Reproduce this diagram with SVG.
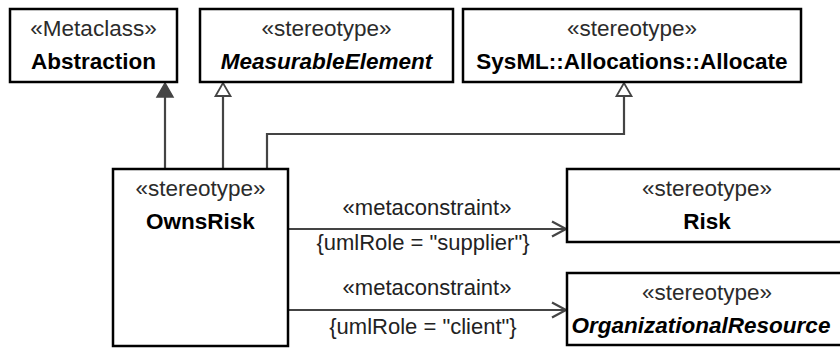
<svg xmlns="http://www.w3.org/2000/svg" width="840" height="348" viewBox="0 0 840 348">
  <defs>
    <style>
      .box { fill: #ffffff; stroke: #000000; stroke-width: 2.5; }
      .st { font-family: "Liberation Sans", Arial, sans-serif; font-size: 22.5px; fill: #2b2b2b; text-anchor: middle; }
      .nm { font-family: "Liberation Sans", Arial, sans-serif; font-size: 22.5px; font-weight: bold; fill: #000000; text-anchor: middle; }
      .it { font-style: italic; }
      .lbl { font-family: "Liberation Sans", Arial, sans-serif; font-size: 22px; fill: #222222; text-anchor: middle; }
      .ln { fill: none; stroke: #444444; stroke-width: 2.2; }
      .hollow { fill: #ffffff; stroke: #444444; stroke-width: 1.8; }
      .solid { fill: #444444; stroke: #444444; stroke-width: 1.5; }
    </style>
  </defs>

  <g id="connectors">
    <!-- OwnsRisk -> Abstraction (filled arrow) -->
    <line class="ln" x1="165" y1="169" x2="165" y2="96"/>
    <polygon class="solid" points="165,83 157,97 173,97"/>
    <!-- OwnsRisk -> MeasurableElement (generalization) -->
    <line class="ln" x1="223" y1="169" x2="223" y2="96"/>
    <polygon class="hollow" points="223,83 215.5,96 230.5,96"/>
    <!-- OwnsRisk -> SysML::Allocations::Allocate (generalization) -->
    <polyline class="ln" points="267,169 267,134 624,134 624,96"/>
    <polygon class="hollow" points="624,83 616.5,96 631.5,96"/>
    <!-- OwnsRisk -> Risk -->
    <line class="ln" x1="289" y1="229" x2="565" y2="229"/>
    <polyline class="ln" points="552,221.5 566,229 552,236.5"/>
    <text class="lbl" x="427" y="215">«metaconstraint»</text>
    <text class="lbl" x="423" y="250">{umlRole = "supplier"}</text>
    <!-- OwnsRisk -> OrganizationalResource -->
    <line class="ln" x1="289" y1="310" x2="565" y2="310"/>
    <polyline class="ln" points="552,302.5 566,310 552,317.5"/>
    <text class="lbl" x="427" y="295">«metaconstraint»</text>
    <text class="lbl" x="423" y="334">{umlRole = "client"}</text>
  </g>

  <g id="abstraction">
    <rect class="box" x="10" y="9" width="167" height="73"/>
    <text class="st" x="93.5" y="36">«Metaclass»</text>
    <text class="nm" x="93.5" y="69">Abstraction</text>
  </g>

  <g id="measurable-element">
    <rect class="box" x="200" y="9" width="253" height="73"/>
    <text class="st" x="326.5" y="36">«stereotype»</text>
    <text class="nm it" x="326.5" y="69">MeasurableElement</text>
  </g>

  <g id="allocate">
    <rect class="box" x="463" y="9" width="338" height="73"/>
    <text class="st" x="632" y="36">«stereotype»</text>
    <text class="nm" x="632" y="69">SysML::Allocations::Allocate</text>
  </g>

  <g id="owns-risk">
    <rect class="box" x="113" y="169" width="175" height="177"/>
    <text class="st" x="200.5" y="196">«stereotype»</text>
    <text class="nm" x="200.5" y="229">OwnsRisk</text>
  </g>

  <g id="risk">
    <rect class="box" x="567" y="169" width="281" height="73"/>
    <text class="st" x="707" y="196">«stereotype»</text>
    <text class="nm" x="707" y="229">Risk</text>
  </g>

  <g id="organizational-resource">
    <rect class="box" x="567" y="273" width="281" height="72"/>
    <text class="st" x="707" y="300">«stereotype»</text>
    <text class="nm it" x="701" y="333">OrganizationalResource</text>
  </g>
</svg>
